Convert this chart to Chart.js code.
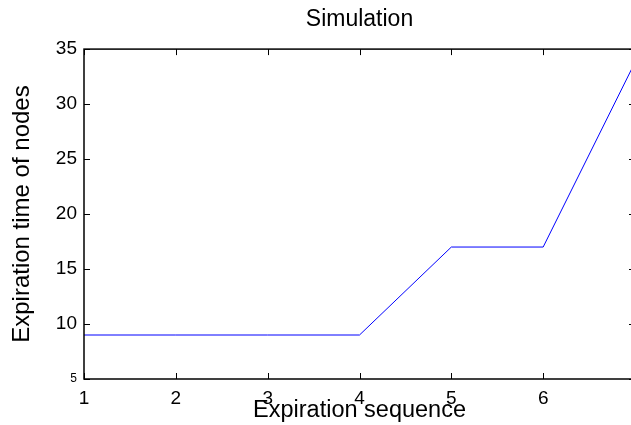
<!DOCTYPE html>
<html>
<head>
<meta charset="utf-8">
<script src="https://cdn.jsdelivr.net/npm/chart.js@4"></script>
<style>
  html, body { margin: 0; padding: 0; background: #fff; overflow: hidden; }
  #wrap { width: 643px; height: 425px; }
</style>
</head>
<body>
<div id="wrap"><canvas id="chart" width="643" height="425"></canvas></div>
<script>
// values
const sequence = [1, 2, 3, 4, 5, 6, 7];
const expirationTimes = [9, 9, 9, 9, 17, 17, 33.8];
const xTicks = [1, 2, 3, 4, 5, 6, 7];
const yTicks = [5, 10, 15, 20, 25, 30, 35];

const fontFamily = '"Liberation Sans", Arial, sans-serif';

// MATLAB style: box around the axes, tick marks pointing inward on all four sides
const boxTicks = {
    id: 'boxTicks',
    afterDraw(chart) {
        const { ctx, chartArea: a, scales } = chart;
        const len = 6;
        ctx.save();
        ctx.strokeStyle = '#000';
        ctx.lineWidth = 1;
        ctx.beginPath();
        xTicks.forEach(v => {
            const px = Math.round(scales.x.getPixelForValue(v)) + 0.5;
            ctx.moveTo(px, a.bottom); ctx.lineTo(px, a.bottom - len);
            ctx.moveTo(px, a.top); ctx.lineTo(px, a.top + len);
        });
        yTicks.forEach(v => {
            const py = Math.round(scales.y.getPixelForValue(v)) + 0.5;
            ctx.moveTo(a.left, py); ctx.lineTo(a.left + len, py);
            ctx.moveTo(a.right, py); ctx.lineTo(a.right - len, py);
        });
        ctx.stroke();
        ctx.lineWidth = 1.5;
        ctx.strokeRect(a.left, a.top, a.right - a.left, a.bottom - a.top);
        ctx.restore();
    }
};

new Chart(document.getElementById('chart').getContext('2d'), {
    type: 'line',
    data: {
        datasets: [{
            data: sequence.map((s, i) => ({ x: s, y: expirationTimes[i] })),
            borderColor: '#0000ff',
            borderWidth: 1,
            pointRadius: 0,
            tension: 0,
            fill: false
        }]
    },
    options: {
        responsive: false,
        animation: false,
        layout: { padding: { top: 0, right: 2, left: 0, bottom: 0 } },
        plugins: {
            legend: { display: false },
            tooltip: { enabled: false },
            title: {
                display: true,
                text: 'Simulation',
                fullSize: false,
                color: '#000',
                font: { family: fontFamily, size: 23, weight: 'normal' },
                padding: { top: 6, bottom: 15.5 }
            }
        },
        scales: {
            x: {
                type: 'linear',
                min: 1,
                max: 7,
                afterFit: s => { s.height = 46; },
                afterBuildTicks: s => { s.ticks = xTicks.map(v => ({ value: v })); },
                grid: { display: false, drawTicks: false },
                border: { display: false },
                ticks: {
                    color: '#000',
                    padding: 8,
                    maxRotation: 0,
                    font: { family: fontFamily, size: 19 },
                    callback: v => (v === 7 ? '' : v)
                },
                title: {
                    display: true,
                    text: 'Expiration sequence',
                    color: '#000',
                    font: { family: fontFamily, size: 23.5 },
                    padding: { top: 0, bottom: 0 }
                }
            },
            y: {
                min: 5,
                max: 35,
                afterFit: s => { s.width = 84; },
                afterBuildTicks: s => { s.ticks = yTicks.map(v => ({ value: v })); },
                grid: { display: false, drawTicks: false },
                border: { display: false },
                ticks: {
                    color: '#000',
                    padding: 7,
                    font: ctx => ({ family: fontFamily, size: ctx.tick && ctx.tick.value === 5 ? 12 : 19 })
                },
                title: {
                    display: true,
                    text: 'Expiration time of nodes',
                    color: '#000',
                    font: { family: fontFamily, size: 24 },
                    padding: { top: 8, bottom: 0 }
                }
            }
        }
    },
    plugins: [boxTicks]
});
</script>
</body>
</html>
